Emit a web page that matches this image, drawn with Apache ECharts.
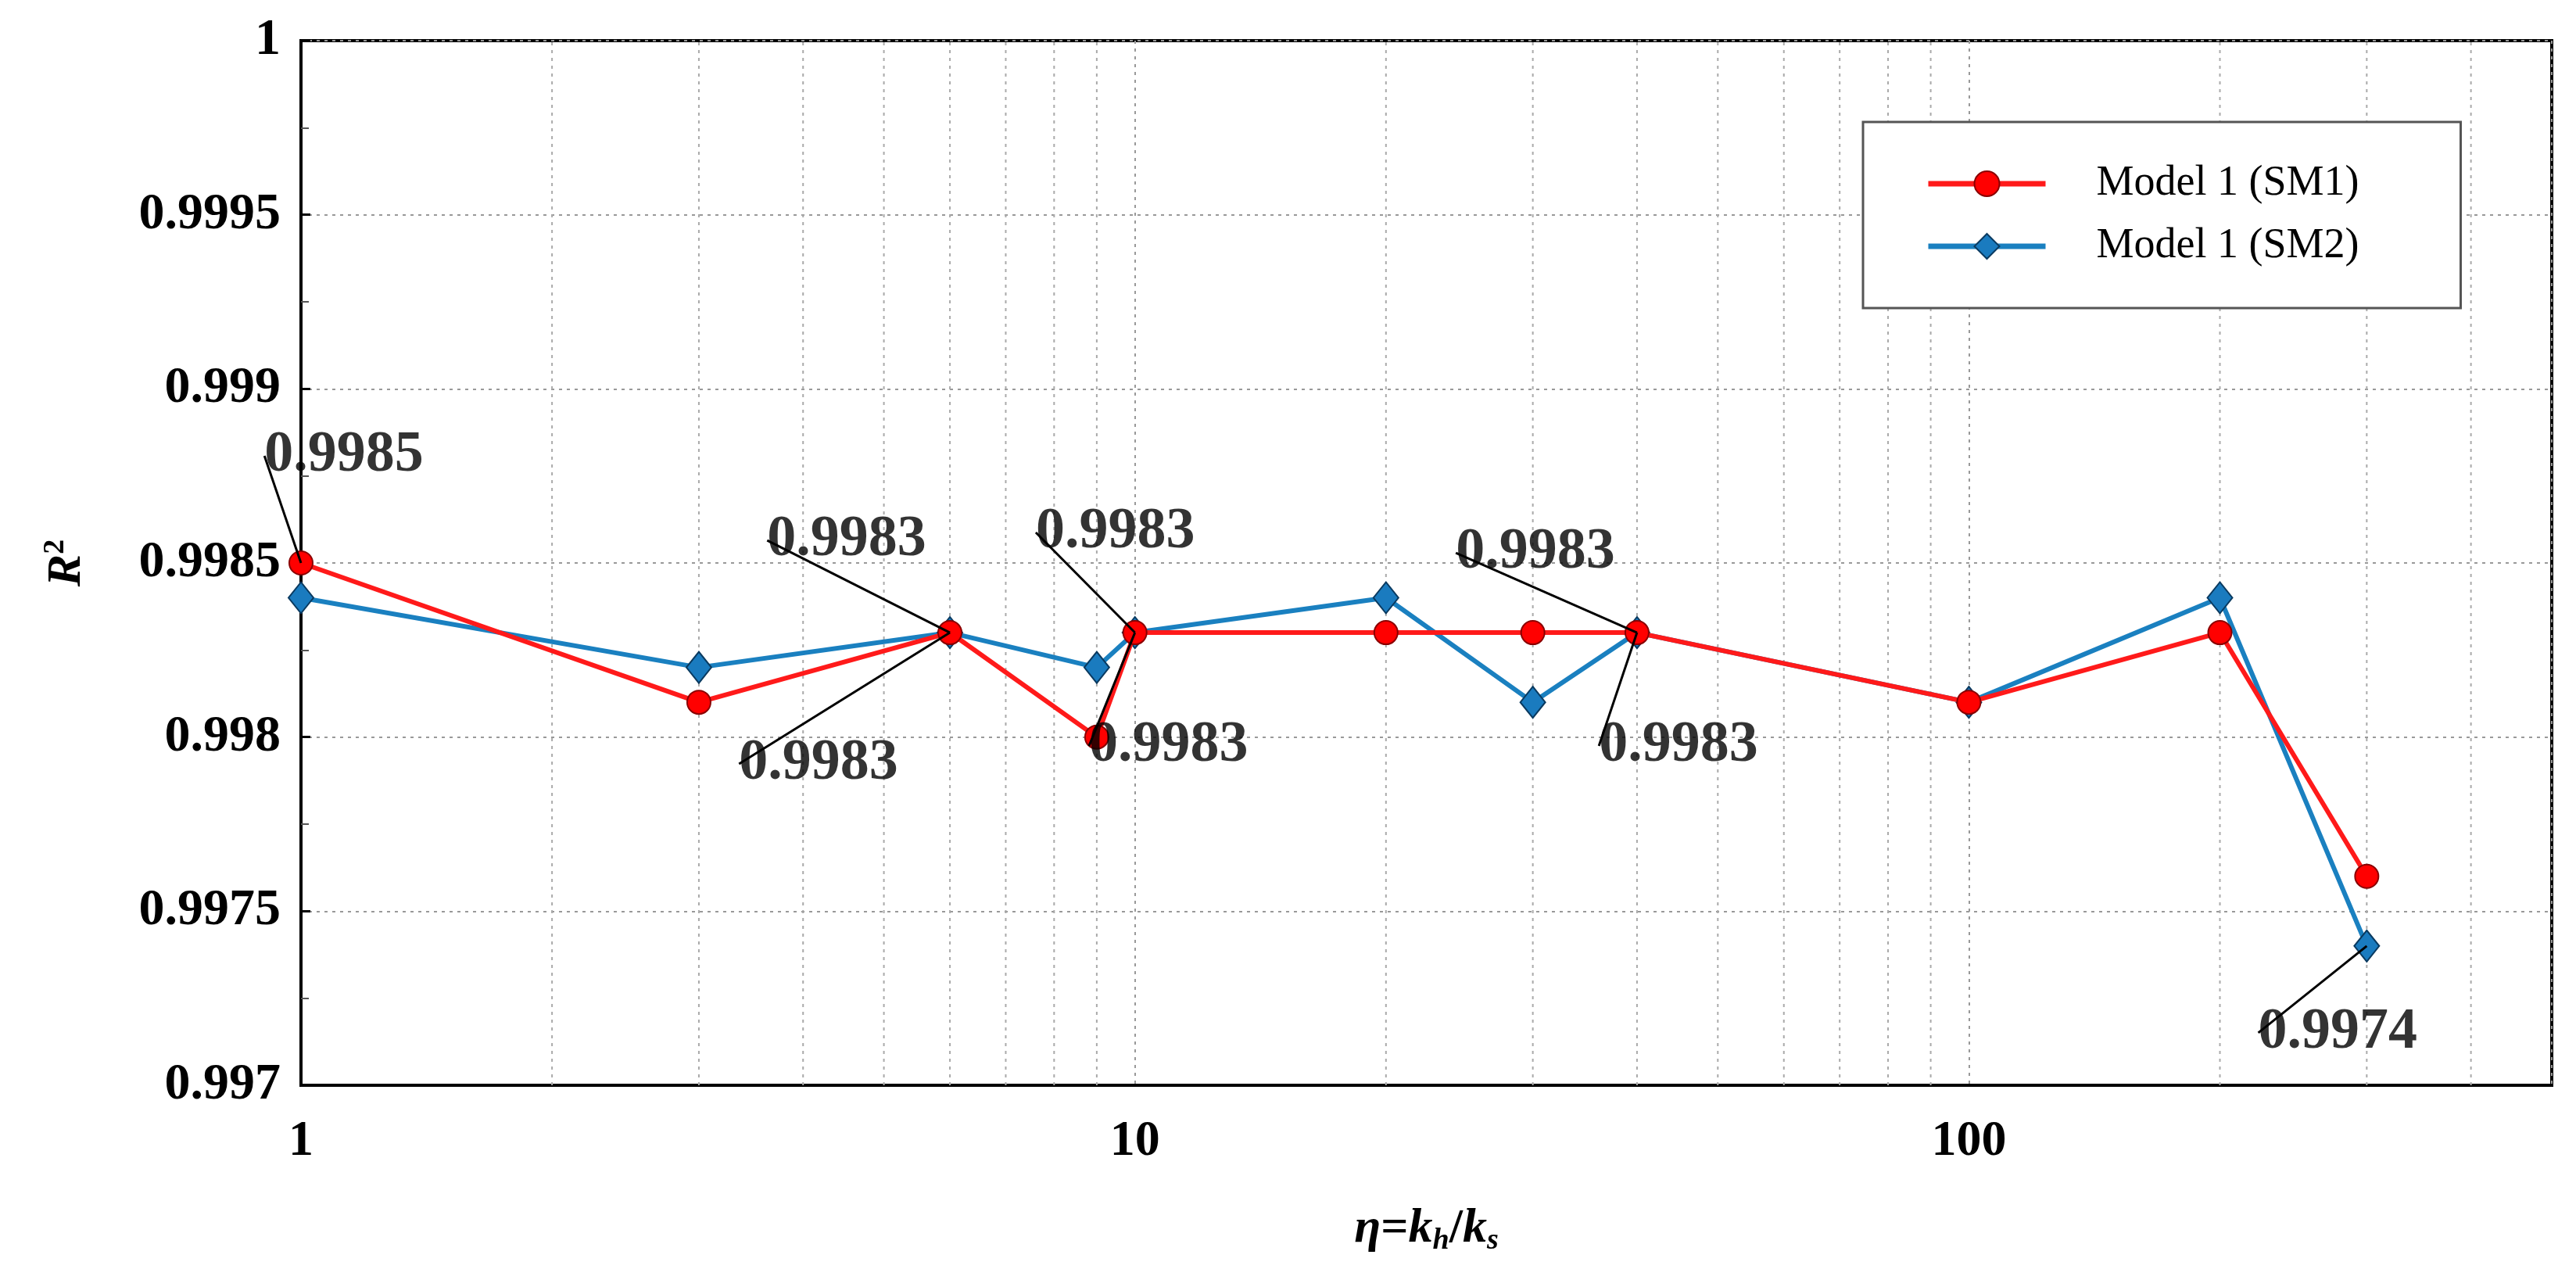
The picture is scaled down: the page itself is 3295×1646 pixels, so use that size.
<!DOCTYPE html>
<html><head><meta charset="utf-8">
<script src="https://cdn.jsdelivr.net/npm/echarts@6/dist/echarts.min.js"></script>
<style>html,body{margin:0;background:#fff}#c{width:3295px;height:1646px}</style>
</head><body><div id="c"></div>
<script>
const etaValues = [1, 3, 6, 9, 10, 20, 30, 40, 100, 200, 300];
const sm1 = [0.9985, 0.9981, 0.9983, 0.9980, 0.9983, 0.9983, 0.9983, 0.9983, 0.9981, 0.9983, 0.9976];
const sm2 = [0.9984, 0.9982, 0.9983, 0.9982, 0.9983, 0.9984, 0.9981, 0.9983, 0.9981, 0.9984, 0.9974];
const minorGridX = [2,3,4,5,6,7,8,9,20,30,40,50,60,70,80,90,200,300,400];
const annotations = [[1,0.9985],[6,0.9983],[6,0.9983],[10,0.9983],[10,0.9983],[40,0.9983],[40,0.9983],[300,0.9974]];
const annotationOffsets = [[160,-137],[-27,-118],[-63,168],[80,-128],[148,145],[-25,-102],[158,145],[68,111]];

const serif = '"Liberation Serif","DejaVu Serif",serif';
const halfW = 105, halfH = 36;
const chart = echarts.init(document.getElementById('c'));
chart.setOption({
  animation:false,
  grid:{left:385,right:31,top:52,bottom:258,show:true,borderColor:'#000',borderWidth:4},
  legend:{
    data:['Model 1 (SM1)','Model 1 (SM2)'], orient:'vertical', left:2383, top:156,
    padding:[52,130,52,80], itemGap:26, itemWidth:150, itemHeight:40,
    lineStyle:{width:7}, 
    backgroundColor:'#fff', borderColor:'#555', borderWidth:3,
    textStyle:{fontFamily:serif, fontSize:54, color:'#000', padding:[0,0,0,60]}
  },
  xAxis:{
    type:'log', logBase:10, min:1, max:500,
    name:'{i|η}{n|=}{i|k}{s|h}{n|/}{i|k}{s|s}', nameLocation:'middle', nameGap:150,
    nameTextStyle:{rich:{
      i:{fontFamily:serif,fontStyle:'italic',fontWeight:'bold',fontSize:62,color:'#000'},
      n:{fontFamily:serif,fontWeight:'bold',fontSize:62,color:'#000'},
      s:{fontFamily:serif,fontStyle:'italic',fontWeight:'bold',fontSize:38,color:'#000',verticalAlign:'bottom',padding:[30,0,0,0]}
    }},
    axisLine:{lineStyle:{color:'#000',width:4}},
    axisTick:{show:false},
    axisLabel:{fontFamily:serif,fontWeight:'bold',fontSize:64,color:'#000',margin:40,
      formatter:v=>[1,10,100].includes(Math.round(v))?String(Math.round(v)):''},
    splitLine:{show:true,lineStyle:{color:'#999',type:[4,6],width:2}}
  },
  yAxis:{
    type:'value', min:0.997, max:1, interval:0.0005,
    name:'{i|R}{s|2}', nameLocation:'middle', nameGap:265, nameRotate:90,
    nameTextStyle:{rich:{
      i:{fontFamily:serif,fontStyle:'italic',fontWeight:'bold',fontSize:62,color:'#000'},
      s:{fontFamily:serif,fontWeight:'bold',fontSize:38,color:'#000',verticalAlign:'top',padding:[0,0,30,0]}
    }},
    axisLine:{show:true,lineStyle:{color:'#000',width:4}},
    axisTick:{show:true,inside:true,length:12,lineStyle:{color:'#000',width:3}},
    minorTick:{show:true,splitNumber:2,length:10,lineStyle:{color:'#555',width:2}},
    axisLabel:{fontFamily:serif,fontWeight:'bold',fontSize:66,color:'#000',margin:26,
      formatter:v=>String(+v.toFixed(4))},
    splitLine:{show:true,lineStyle:{color:'#999',type:[4,6],width:2}}
  },
  series:[
    {type:'custom', silent:true, z:1, data:minorGridX.map(v=>[v]),
      renderItem:(p,api)=>{
        const a=api.coord([api.value(0),0.997]), b=api.coord([api.value(0),1]);
        return {type:'line',shape:{x1:a[0],y1:a[1],x2:b[0],y2:b[1]},
          style:{stroke:'#aaa',lineWidth:2,lineDash:[4,6]}};
      }},
    {name:'Model 1 (SM1)', type:'line', z:3, data:etaValues.map((x,i)=>[x,sm1[i]]),
      lineStyle:{color:'#ff1a1a',width:6}, symbol:'circle', symbolSize:30,
      itemStyle:{color:'#ff0000',borderColor:'#8a0000',borderWidth:2}},
    {name:'Model 1 (SM2)', type:'line', z:2, data:etaValues.map((x,i)=>[x,sm2[i]]),
      lineStyle:{color:'#1a80c0',width:6}, symbol:'diamond', symbolSize:[32,40],
      itemStyle:{color:'#1a7bbf',borderColor:'#0a3a60',borderWidth:2}},
    {type:'scatter', z:5, silent:true, symbolSize:0, data:annotations,
      label:{show:true, position:'inside', fontFamily:serif, fontWeight:'bold', fontSize:74, color:'#000',
        textBorderWidth:0, formatter:p=>p.value[1].toFixed(4)},
      labelLine:{show:true, lineStyle:{color:'#000',width:3}},
      labelLayout:p=>{const o=annotationOffsets[p.dataIndex]; return {dx:o[0]-halfW,dy:o[1]-halfH+36};}
    }
  ]
});
</script></body></html>
